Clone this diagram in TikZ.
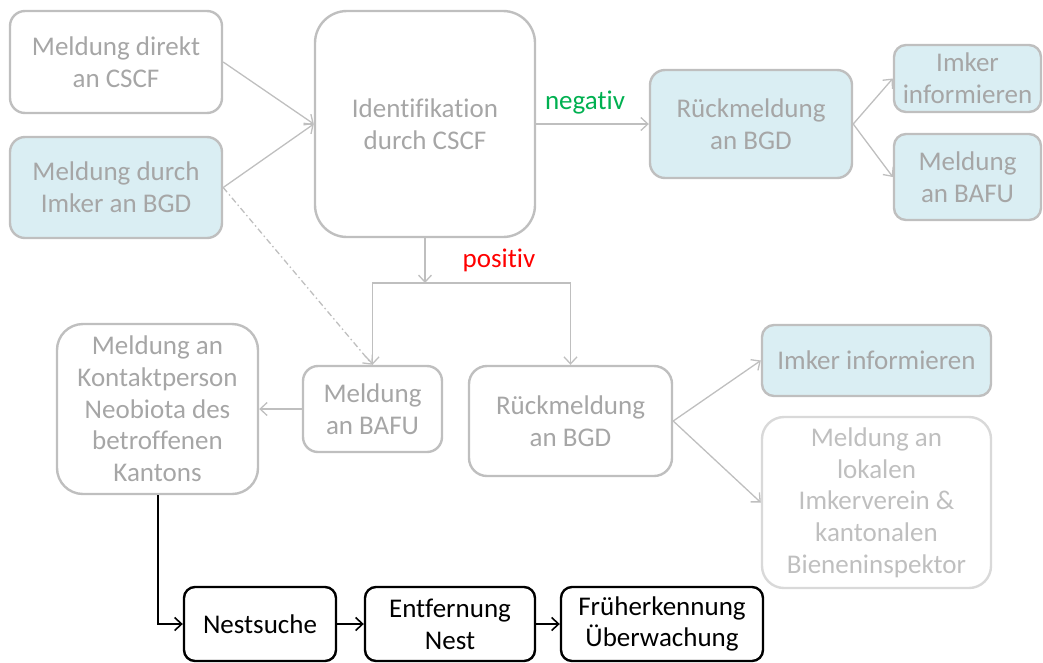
\documentclass[tikz,border=0pt]{standalone}
\usepackage{fontspec}
\setmainfont{Carlito}[Ligatures=NoCommon]
\usetikzlibrary{arrows.meta}
\definecolor{gborder}{HTML}{BFBFBF}
\definecolor{gtext}{HTML}{A6A6A6}
\definecolor{lborder}{HTML}{D9D9D9}
\definecolor{ltext}{HTML}{BFBFBF}
\definecolor{bluefill}{HTML}{DAEEF3}
\definecolor{posred}{HTML}{FF0000}
\definecolor{neggreen}{HTML}{00B050}
\tikzset{
  base/.style={rectangle, align=center, inner sep=1pt,
    font=\fontsize{27}{31.7}\selectfont},
  gbox/.style={base, draw=gborder, line width=2.4pt, text=gtext, rounded corners=15pt},
  bbox/.style={gbox, fill=bluefill},
  lbox/.style={base, draw=lborder, line width=2.4pt, text=ltext, rounded corners=22pt},
  kbox/.style={base, draw=black, line width=2.4pt, text=black, rounded corners=11pt},
  garrow/.style={draw=gborder, line width=1.3pt, -{Straight Barb[length=7pt,width=13pt,line width=1.3pt]}},
  karrow/.style={draw=black, line width=1.6pt, -{Straight Barb[length=7pt,width=13pt,line width=1.6pt]}},
  lbl/.style={font=\fontsize{27}{30}\selectfont, inner sep=0pt}
}
\begin{document}
\begin{tikzpicture}[x=1pt,y=-1pt]
\useasboundingbox (0,0) rectangle (1043,662);
% nodes
\node[gbox, minimum width=212pt, minimum height=102pt] (A) at (116,62) {Meldung direkt\\an CSCF};
\node[bbox, minimum width=212pt, minimum height=101pt] (B) at (116,187.5) {Meldung durch\\Imker an BGD};
\node[gbox, rounded corners=32pt, minimum width=220pt, minimum height=226pt] (C) at (425,124) {Identifikation\\durch CSCF};
\node[bbox, minimum width=202pt, minimum height=108pt] (R1) at (751,124) {R\"uckmeldung\\an BGD};
\node[bbox, rounded corners=12pt, minimum width=147pt, minimum height=67pt] (I1) at (967.5,78.5) {Imker\\informieren};
\node[bbox, rounded corners=12pt, minimum width=147pt, minimum height=86pt] (M1) at (967.5,177) {Meldung\\an BAFU};
\node[gbox, rounded corners=26pt, minimum width=201pt, minimum height=170pt] (K) at (157.5,409) {Meldung an\\Kontaktperson\\Neobiota des\\betroffenen\\Kantons};
\node[gbox, minimum width=139pt, minimum height=86pt] (BM) at (372.5,409) {Meldung\\an BAFU};
\node[gbox, rounded corners=18pt, minimum width=203pt, minimum height=110pt] (R2) at (570.5,421) {R\"uckmeldung\\an BGD};
\node[bbox, rounded corners=12pt, minimum width=229pt, minimum height=71pt] (I2) at (876.5,360.5) {Imker informieren};
\node[lbox, minimum width=229pt, minimum height=171pt] (L) at (876.5,502.5) {Meldung an\\lokalen\\Imkerverein \&\\kantonalen\\Bieneninspektor};
\node[kbox, minimum width=152pt, minimum height=74pt] (N) at (260,624) {Nestsuche};
\node[kbox, minimum width=170pt, minimum height=74pt] (E) at (450,624) {Entfernung\\Nest};
\node[kbox, minimum width=202pt, minimum height=74pt] (F) at (662,624) {Fr\"uherkennung\\\"Uberwachung};
% labels
\node[lbl, text=neggreen] (neg) at (585,103) {negativ};
\node[lbl, text=posred] (pos) at (499,260) {positiv};
% connectors
\coordinate (J) at (425,283);
\draw[garrow] (A.east) -- (C.west);
\draw[garrow] (B.east) -- (C.west);
\draw[garrow, dash pattern=on 6pt off 3pt on 1.5pt off 3pt] (B.east) -- (BM.north);
\draw[garrow] (C.east) -- (R1.west);
\draw[garrow] (R1.east) -- (I1.west);
\draw[garrow] (R1.east) -- (M1.west);
\draw[garrow] (C.south) -- (J);
\draw[garrow] (J) -| (BM.north);
\draw[garrow] (J) -| (R2.north);
\draw[garrow] (BM.west) -- (K.east);
\draw[garrow] (R2.east) -- (I2.west);
\draw[garrow] (R2.east) -- (L.west);
\draw[karrow, line width=2pt] (K.south) |- (N.west);
\draw[karrow] (N.east) -- (E.west);
\draw[karrow] (E.east) -- (F.west);
\end{tikzpicture}
\end{document}
